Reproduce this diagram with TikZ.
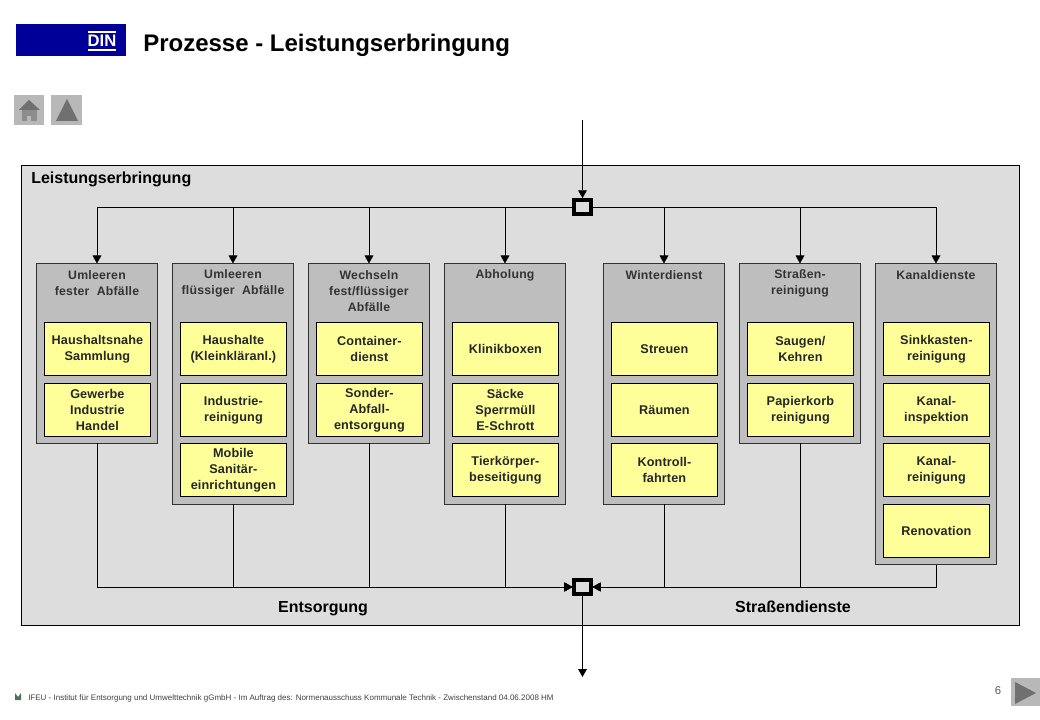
\documentclass[tikz,border=0pt]{standalone}
\usepackage{fontspec}
\setmainfont{Liberation Sans}
\usetikzlibrary{arrows.meta}
\definecolor{panelc}{HTML}{DDDDDD}
\definecolor{groupc}{HTML}{BEBEBE}
\definecolor{itemc}{HTML}{FFFF99}
\definecolor{dinblue}{HTML}{000099}
\definecolor{btnc}{HTML}{B8B8B8}
\definecolor{btnd}{HTML}{707070}
\definecolor{headc}{HTML}{333333}
\definecolor{iconc}{HTML}{4F6F5F}
\newfontfamily\itemfont[LetterSpace=1]{Liberation Sans}
\newfontfamily\groupfont[LetterSpace=2,WordSpace=2]{Liberation Sans}
\tikzset{
  x=0.75pt,y=-0.75pt,
  groupbox/.style={draw=black!80,line width=0.6pt,fill=groupc,anchor=north west,minimum width=91pt,inner sep=0pt,outer sep=0pt},
  itembox/.style={draw=black,line width=0.6pt,fill=itemc,minimum width=79.2pt,minimum height=39.7pt,inner sep=0pt,outer sep=0pt,align=center,font=\itemfont\fontsize{9.5}{12}\selectfont\bfseries,text=black!85,execute at begin node={\vspace*{2.2pt}}},
  grouptitle/.style={align=center,anchor=center,inner sep=0pt,font=\groupfont\fontsize{9.2}{12}\selectfont\bfseries,text=headc},
  junction/.style={draw=black,line width=2.6pt,fill=none,minimum width=12.5pt,minimum height=10.5pt,inner sep=0pt,outer sep=1.3pt},
  conn/.style={line width=0.7pt,draw=black},
  arr/.style={conn,-{Triangle[length=6pt,width=6.5pt]}},
  bighead/.style={font=\fontsize{12}{14}\selectfont\bfseries,inner sep=0pt,anchor=base},
}
\begin{document}
\begin{tikzpicture}
\useasboundingbox (0,0) rectangle (1040,720);
% header
\node[fill=dinblue,minimum width=82.5pt,minimum height=24pt,inner sep=0pt,anchor=north west] (din) at (16,24) {};
\node[text=white,font=\fontsize{12.5}{12}\selectfont\bfseries,inner sep=0pt] (dint) at (102,41) {DIN};
\draw[white,line width=0.9pt] (88,32) -- (116,32) (88,50) -- (116,50);
\node[anchor=base west,inner sep=0pt,font=\fontsize{18}{20}\selectfont\bfseries] (title) at (143,51.5) {Prozesse - Leistungserbringung};
% nav buttons
\fill[btnc] (14,95) rectangle (44,125);
\fill[btnd] (19,110) -- (29,100) -- (40,110) -- cycle;
\fill[btnd!80!white] (22,110) rectangle (37,121);
\fill[btnc] (27,116) rectangle (31,121);
\fill[btnc] (51,95) rectangle (82,125);
\fill[btnd] (56,121) -- (67,99) -- (78,121) -- cycle;
\fill[btnc] (1011,678) rectangle (1040,706);
\fill[btnd] (1015,682) -- (1036,693) -- (1015,704) -- cycle;
% panel
\node[draw=black,line width=0.7pt,fill=panelc,anchor=north west,minimum width=748.5pt,minimum height=345.2pt,inner sep=0pt] (panel) at (21,165) {};
\node[bighead,anchor=base west] (ltitle) at (31,184) {Leistungserbringung};
% groups
\foreach \n/\x/\b in {a/36.3/443.5,b/172.3/504.5,c/308.3/443.5,d/444.3/504.5,e/603.3/504.5,f/739.3/443.5,g/875.3/564.5}{
  \pgfmathsetlengthmacro{\hh}{(\b-263.5)*0.75}
  \node[groupbox,minimum height=\hh] (\n) at (\x,263.5) {};
}
\node[grouptitle] (ta) at (97,283) {Umleeren\\fester Abfälle};
\node[grouptitle] (tb) at (233,283) {Umleeren\\flüssiger Abfälle};
\node[grouptitle] (tc) at (369,291) {Wechseln\\fest/flüssiger\\Abfälle};
\node[grouptitle] (td) at (505,275) {Abholung};
\node[grouptitle] (te) at (664,275.5) {Winterdienst};
\node[grouptitle] (tf) at (800,283) {Straßen-\\reinigung};
\node[grouptitle] (tg) at (936,275) {Kanaldienste};
% items
\node[itembox] (a1) at (97.4,349) {Haushaltsnahe\\Sammlung};
\node[itembox] (a2) at (97.4,410) {Gewerbe\\Industrie\\Handel};
\node[itembox] (b1) at (233.4,349) {Haushalte\\(Kleinkläranl.)};
\node[itembox] (b2) at (233.4,410) {Industrie-\\reinigung};
\node[itembox] (b3) at (233.4,470) {Mobile\\Sanitär-\\einrichtungen};
\node[itembox] (c1) at (369.4,349) {Container-\\dienst};
\node[itembox] (c2) at (369.4,410) {Sonder-\\Abfall-\\entsorgung};
\node[itembox] (d1) at (505.4,349) {Klinikboxen};
\node[itembox] (d2) at (505.4,410) {Säcke\\Sperrmüll\\E-Schrott};
\node[itembox] (d3) at (505.4,470) {Tierkörper-\\beseitigung};
\node[itembox] (e1) at (664.4,349) {Streuen};
\node[itembox] (e2) at (664.4,410) {Räumen};
\node[itembox] (e3) at (664.4,470) {Kontroll-\\fahrten};
\node[itembox] (f1) at (800.4,349) {Saugen/\\Kehren};
\node[itembox] (f2) at (800.4,410) {Papierkorb\\reinigung};
\node[itembox] (g1) at (936.4,349) {Sinkkasten-\\reinigung};
\node[itembox] (g2) at (936.4,410) {Kanal-\\inspektion};
\node[itembox] (g3) at (936.4,470) {Kanal-\\reinigung};
\node[itembox] (g4) at (936.4,531) {Renovation};
% junctions
\node[junction] (jt) at (582.5,207) {};
\node[junction] (jb) at (582.5,587) {};
\coordinate (in) at (582.5,120);
\coordinate (out) at (582.5,677);
\draw[arr] (in) -- (jt.north);
\draw[arr] (jb.south) -- (out);
% top distribution
\foreach \n in {a,b,c,d}{
  \draw[arr] (jt.west) -| (\n.north);
}
\foreach \n in {e,f,g}{
  \draw[arr] (jt.east) -| (\n.north);
}
% bottom collection
\foreach \n in {a,b,c,d}{
  \draw[arr] (\n.south) |- (jb.west);
}
\foreach \n in {e,f,g}{
  \draw[arr] (\n.south) |- (jb.east);
}
\node[bighead] (ent) at (323,612) {Entsorgung};
\node[bighead] (str) at (793,612) {Straßendienste};
% footer
\fill[iconc] (15,693) -- (15,700) -- (21,700) -- (21,693) -- (18,697) -- cycle;
\node[anchor=west,inner sep=0pt,font=\fontsize{6}{6}\selectfont,text=black!75] (foot) at (28,698) {IFEU - Institut für Entsorgung und Umwelttechnik gGmbH - Im Auftrag des: Normenausschuss  Kommunale Technik - Zwischenstand  04.06.2008  HM};
\node[inner sep=0pt,font=\fontsize{8.5}{10}\selectfont,text=black!65] (pg) at (998,691) {6};
\end{tikzpicture}
\end{document}
